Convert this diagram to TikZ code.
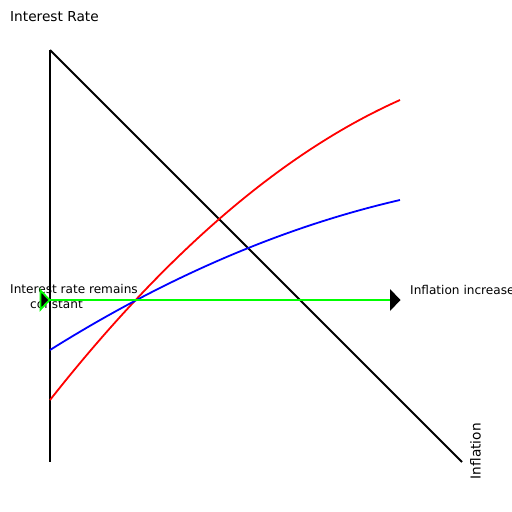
\documentclass[tikz,border=0pt]{standalone}
\usepackage{fontspec}
\setmainfont{DejaVu Sans}
\begin{document}
\begin{tikzpicture}[x=1pt,y=-1pt,
  axisline/.style={line width=1.8pt,black},
  curve/.style={line width=1.8pt},
  lbl/.style={inner sep=0pt,font=\fontsize{12.1}{15}\selectfont},
  biglbl/.style={inner sep=0pt,font=\fontsize{13.7}{16}\selectfont}]
\useasboundingbox (0,0) rectangle (512,512);
\clip (0,0) rectangle (512,512);
% labels (drawn first, lines lie over them)
\node[biglbl,anchor=base west] (ytitle) at (10,21.7) {Interest Rate};
\node[lbl,anchor=base west,align=left] (lconst) at (10,308.7) {Interest rate remains\\\hspace*{20pt}constant};
\node[lbl,anchor=base west] (linc) at (410,294) {Inflation increase};
\node[biglbl,anchor=base west,rotate=90] (xtitle) at (480.7,479.5) {Inflation};
% named points
\coordinate (top) at (50,50);
\coordinate (bot) at (50,462);
\coordinate (diagend) at (462,462);
\coordinate (r0) at (50,400);
\coordinate (r1) at (400,100);
\coordinate (b0) at (50,350);
\coordinate (b1) at (400,200);
\coordinate (gL) at (45,300);
\coordinate (gR) at (392,300);
% axis and diagonal
\draw[axisline] (top) -- (bot);
\draw[axisline] (top) -- (diagend);
% curves
\draw[curve,red] (r0) .. controls (166.7,252) and (283.3,152) .. (r1);
\draw[curve,blue] (b0) .. controls (166.7,276.9) and (283.3,226.9) .. (b1);
% green line
\draw[line width=1.8pt,green] (gL) -- (gR);
\fill[black] (390,289) -- (390,311) -- (400.5,300) -- cycle;
\filldraw[fill=black,draw=green,line width=1.8pt,line join=miter] (40.5,290.5) -- (40.5,309.5) -- (49.5,300) -- cycle;
\end{tikzpicture}
\end{document}
